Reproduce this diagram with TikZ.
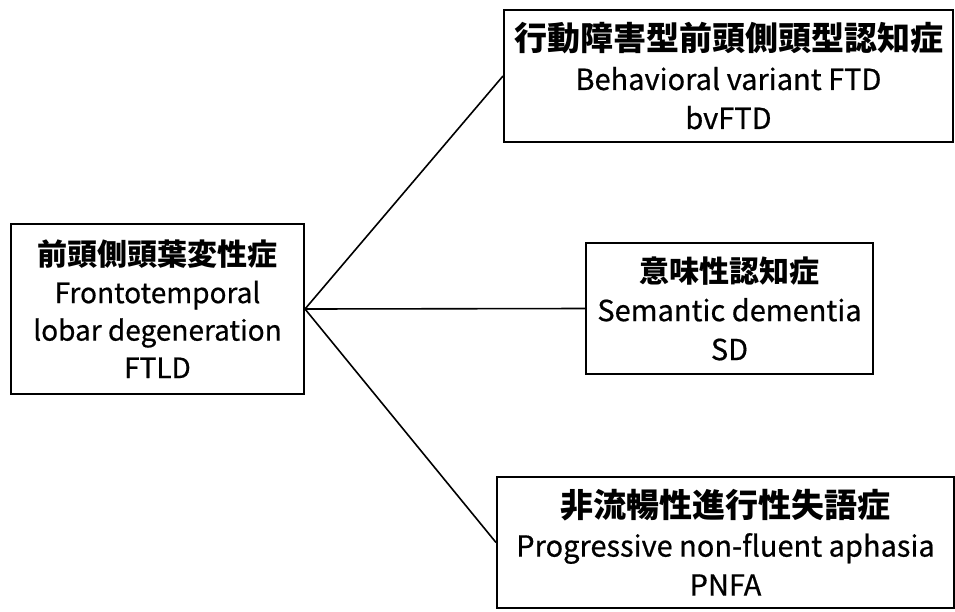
\documentclass[tikz,border=0pt]{standalone}
\usepackage{fontspec}
\setmainfont{Noto Sans CJK JP}[FakeBold=0.6]
\newfontfamily\jpf{Noto Sans CJK JP}
\newcommand{\jp}[2]{{\fontsize{#1}{39}\selectfont\jpf\bfseries #2}}
\begin{document}
\begin{tikzpicture}[x=1pt,y=-1pt,
  box/.style={draw=black,line width=2pt,inner sep=0pt,align=center,anchor=center},
  link/.style={draw=black,line width=1.6pt}]
\useasboundingbox (0,0) rectangle (955,611);
\node[box,minimum width=293pt,minimum height=170pt,font=\fontsize{28}{37.5}\selectfont] (ftld) at (157.5,309)
  {\jp{30}{前頭側頭葉変性症}\\Frontotemporal\\lobar degeneration\\FTLD};
\node[box,minimum width=449pt,minimum height=132pt,font=\fontsize{29}{39}\selectfont] (bv) at (728.5,76)
  {\jp{33}{行動障害型前頭側頭型認知症}\\Behavioral variant FTD\\bvFTD};
\node[box,minimum width=287pt,minimum height=131pt,font=\fontsize{29}{39}\selectfont] (sd) at (729.5,308.5)
  {\jp{30}{意味性認知症}\\Semantic dementia\\SD};
\node[box,minimum width=457pt,minimum height=131pt,font=\fontsize{29}{39}\selectfont] (pnfa) at (725.5,542.5)
  {\jp{33}{非流暢性進行性失語症}\\Progressive non-fluent aphasia\\PNFA};
\draw[link] (ftld.east) -- (bv.west);
\draw[link] (ftld.east) -- (sd.west);
\draw[link] (ftld.east) -- (pnfa.west);
\end{tikzpicture}
\end{document}
